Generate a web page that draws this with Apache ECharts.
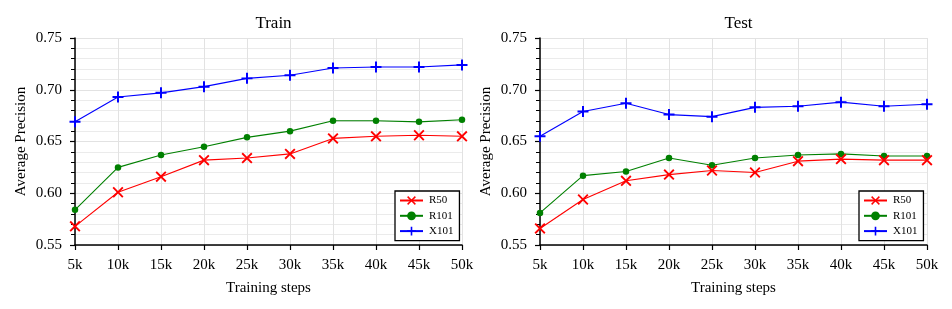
<!DOCTYPE html>
<html><head><meta charset="utf-8">
<script src="https://cdn.jsdelivr.net/npm/echarts@6/dist/echarts.min.js"></script>
<style>html,body{margin:0;padding:0;background:#fff}#c{width:952px;height:309px}</style>
</head><body><div id="c"></div>
<script>
const steps = ['5k','10k','15k','20k','25k','30k','35k','40k','45k','50k'];
const yTicks = [0.55, 0.60, 0.65, 0.70, 0.75];
const trainR50  = [0.568, 0.601, 0.616, 0.632, 0.634, 0.638, 0.653, 0.655, 0.656, 0.655];
const trainR101 = [0.584, 0.625, 0.637, 0.645, 0.654, 0.660, 0.670, 0.670, 0.669, 0.671];
const trainX101 = [0.669, 0.693, 0.697, 0.703, 0.711, 0.714, 0.721, 0.722, 0.722, 0.724];
const testR50   = [0.566, 0.594, 0.612, 0.618, 0.622, 0.620, 0.631, 0.633, 0.632, 0.632];
const testR101  = [0.581, 0.617, 0.621, 0.634, 0.627, 0.634, 0.637, 0.638, 0.636, 0.636];
const testX101  = [0.655, 0.679, 0.687, 0.676, 0.674, 0.683, 0.684, 0.688, 0.684, 0.686];
const names = ['R50','R101','X101'];
const titles = ['Train','Test'];

const FONT = '"Liberation Serif", "Times New Roman", serif';
const X_PATH = 'path://M0,1.2L1.2,0L5,3.8L8.8,0L10,1.2L6.2,5L10,8.8L8.8,10L5,6.2L1.2,10L0,8.8L3.8,5Z';
const PLUS_PATH = 'path://M4.1,0H5.9V4.1H10V5.9H5.9V10H4.1V5.9H0V4.1H4.1Z';
const styles = {
  R50: {color:'#ff0000', symbol:X_PATH, size:11},
  R101:{color:'#008000', symbol:'circle', size:6.5},
  X101:{color:'#0000ff', symbol:PLUS_PATH, size:11}
};
const grids = [
  {left:75, right:952-462, top:38, height:207},
  {left:540, right:952-927, top:38, height:207}
];
const centers = [268.5, 733.5];
const legendLeft = [395, 859];

const xAxes = grids.map((g,i)=>({
  type:'category', gridIndex:i, data:steps, boundaryGap:false,
  name:'Training steps', nameLocation:'middle', nameGap:36,
  nameTextStyle:{fontFamily:FONT, fontSize:15, color:'#000'},
  axisLine:{lineStyle:{color:'#000', width:1.5}},
  axisTick:{show:true, length:5, alignWithLabel:true, lineStyle:{color:'#000', width:1.2}},
  axisLabel:{fontFamily:FONT, fontSize:15, color:'#000', margin:13, interval:0},
  splitLine:{show:true, lineStyle:{color:'#e2e2e2', width:1}}
}));
const yAxes = grids.map((g,i)=>({
  type:'value', gridIndex:i, min:yTicks[0], max:yTicks[yTicks.length-1], interval:0.05,
  name:'Average Precision', nameLocation:'middle', nameGap:46,
  nameTextStyle:{fontFamily:FONT, fontSize:15, color:'#000'},
  axisLine:{show:true, lineStyle:{color:'#000', width:1.5}},
  axisTick:{show:true, length:5, lineStyle:{color:'#000', width:1.2}},
  minorTick:{show:true, splitNumber:5, length:4, lineStyle:{color:'#000', width:1}},
  axisLabel:{fontFamily:FONT, fontSize:15, color:'#000', margin:13, formatter:v=>v.toFixed(2)},
  splitLine:{show:true, lineStyle:{color:'#e2e2e2', width:1}},
  minorSplitLine:{show:true, lineStyle:{color:'#ebebeb', width:1}}
}));
const dataSets = [[trainR50, trainR101, trainX101],[testR50, testR101, testX101]];
const series = [];
dataSets.forEach((ds,i)=>{
  ds.forEach((vals,k)=>{
    const n = names[k], s = styles[n];
    series.push({
      type:'line', name:n, xAxisIndex:i, yAxisIndex:i, data:vals,
      symbol:s.symbol, symbolSize:s.size, showAllSymbol:true,
      lineStyle:{color:s.color, width:1.1},
      itemStyle:{color:s.color, opacity:1},
      z: 3 - k + 2,
      animation:false, clip:false
    });
  });
});
const option = {
  backgroundColor:'#fff',
  animation:false,
  title: titles.map((t,i)=>({text:t, left:centers[i], top:10, textAlign:'center',
    textStyle:{fontFamily:FONT, fontSize:17, fontWeight:'normal', color:'#000'}})),
  grid: grids,
  xAxis: xAxes,
  yAxis: yAxes,
  legend: legendLeft.map(l=>({
    data:names, orient:'vertical', left:l, top:191,
    itemWidth:23, itemHeight:11, itemGap:4.3,
    padding:[4,6,4,4],
    borderColor:'#000', borderWidth:1.3, borderRadius:0,
    backgroundColor:'#fff',
    selectedMode:false,
    textStyle:{fontFamily:FONT, fontSize:11, color:'#000', padding:[0,0,0,1]}
  })),
  series: series
};
const chart = echarts.init(document.getElementById('c'), null, {renderer:'canvas'});
chart.setOption(option);
</script></body></html>
